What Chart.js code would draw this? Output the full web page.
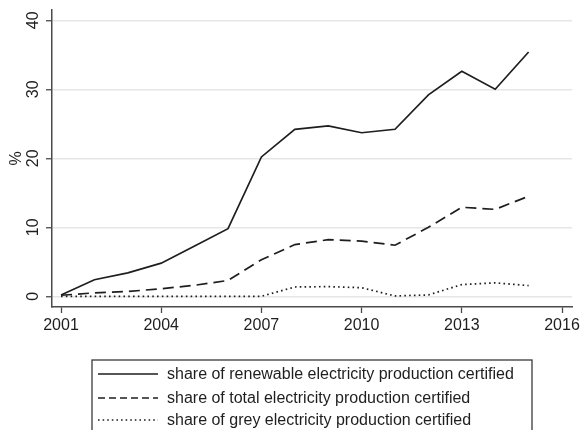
<!DOCTYPE html>
<html><head><meta charset="utf-8">
<script src="https://cdn.jsdelivr.net/npm/chart.js@4/dist/chart.umd.min.js"></script>
<style>html,body{margin:0;padding:0;background:#fff}#wrap{width:583px;height:430px;position:relative}</style>
</head><body><div id="wrap"><canvas id="c"></canvas></div>
<script>
const years = [2001,2002,2003,2004,2005,2006,2007,2008,2009,2010,2011,2012,2013,2014,2015];
const renewable = [0.2,2.4,3.4,4.8,7.3,9.8,20.2,24.2,24.7,23.7,24.2,29.2,32.6,30.0,35.4];
const total = [0.15,0.5,0.7,1.1,1.6,2.3,5.3,7.5,8.2,8.0,7.4,10.0,12.9,12.6,14.5];
const grey = [0,0,0,0,0,0,0,1.35,1.4,1.25,0.05,0.2,1.7,1.95,1.55];
const xTicks = [2001,2004,2007,2010,2013,2016];
const yTicks = [0,10,20,30,40];
const seriesLabels = [
  'share of renewable electricity production certified',
  'share of total electricity production certified',
  'share of grey electricity production certified'
];
const yTitle = '%';

const FONT = '"Liberation Sans", Arial, sans-serif';
const INK = '#1e1e1e';

function pts(vals){ return years.map((y,i)=>({x:y, y:vals[i]})); }

const yLabelPlugin = {
  id: 'yLabels',
  afterDraw(chart){
    const ctx = chart.ctx, ys = chart.scales.y;
    ctx.save();
    ctx.fillStyle = INK;
    ctx.font = '16px ' + FONT;
    ctx.textAlign = 'center';
    ctx.textBaseline = 'alphabetic';
    ys.ticks.forEach(t => {
      const p = ys.getPixelForValue(t.value);
      ctx.save();
      ctx.translate(38, p);
      ctx.rotate(-Math.PI/2);
      ctx.fillText(String(t.value), 0, 0);
      ctx.restore();
    });
    ctx.restore();
  }
};

const legendPlugin = {
  id: 'boxLegend',
  afterDraw(chart){
    const ctx = chart.ctx;
    ctx.save();
    ctx.strokeStyle = '#3a3a3a';
    ctx.lineWidth = 1.3;
    ctx.strokeRect(92, 360, 440, 90);
    ctx.font = '16px ' + FONT;
    ctx.textBaseline = 'middle';
    ctx.textAlign = 'left';
    const rows = [374, 398, 420];
    chart.data.datasets.forEach((ds, i) => {
      const y = rows[i];
      ctx.strokeStyle = ds.borderColor;
      ctx.lineWidth = ds.borderWidth;
      ctx.setLineDash(ds.legendDash || ds.borderDash || []);
      ctx.beginPath();
      ctx.moveTo(98, y); ctx.lineTo(158, y);
      ctx.stroke();
      ctx.setLineDash([]);
      ctx.fillStyle = INK;
      ctx.fillText(ds.label, 167, y + 1);
    });
    ctx.restore();
  }
};

new Chart(document.getElementById('c'), {
  type: 'line',
  data: {
    datasets: [
      {label: seriesLabels[0], data: pts(renewable), borderColor: INK, borderWidth: 1.7, pointRadius: 0, fill: false, tension: 0},
      {label: seriesLabels[1], data: pts(total), borderColor: INK, borderWidth: 1.7, borderDash: [11,6], legendDash:[7,4], pointRadius: 0, fill: false, tension: 0},
      {label: seriesLabels[2], data: pts(grey), borderColor: INK, borderWidth: 1.7, borderDash: [1.6,3.2], legendDash:[1.6,3], pointRadius: 0, fill: false, tension: 0}
    ]
  },
  options: {
    responsive: true,
    maintainAspectRatio: false,
    animation: false,
    layout: {padding: {top: 10, right: 10, bottom: 93, left: 0}},
    plugins: {legend: {display: false}, tooltip: {enabled: false}},
    scales: {
      x: {
        type: 'linear',
        min: 2000.73, max: 2016.3,
        afterBuildTicks: s => { s.ticks = xTicks.map(v => ({value: v})); },
        afterFit: s => { s.height = 30; },
        grid: {drawOnChartArea: false, drawTicks: true, tickLength: 6, tickColor: '#4a4a4a', tickWidth: 1.3},
        border: {display: true, color: '#4a4a4a', width: 1.5},
        ticks: {color: INK, font: {family: FONT, size: 16}, padding: 3, maxRotation: 0, autoSkip: false, callback: v => String(v)}
      },
      y: {
        type: 'linear',
        min: -1.55, max: 41.49,
        afterBuildTicks: s => { s.ticks = yTicks.map(v => ({value: v})); },
        afterFit: s => { s.width = 52; },
        grid: {color: '#e6e6e6', lineWidth: 1.5, drawTicks: true, tickLength: 6, tickColor: '#4a4a4a', tickWidth: 1.3},
        border: {display: true, color: '#4a4a4a', width: 1.5},
        ticks: {display: false},
        title: {display: true, text: yTitle, color: INK, font: {family: FONT, size: 16}, padding: {top: 7, bottom: 0}}
      }
    }
  },
  plugins: [yLabelPlugin, legendPlugin]
});
</script>
</body></html>
